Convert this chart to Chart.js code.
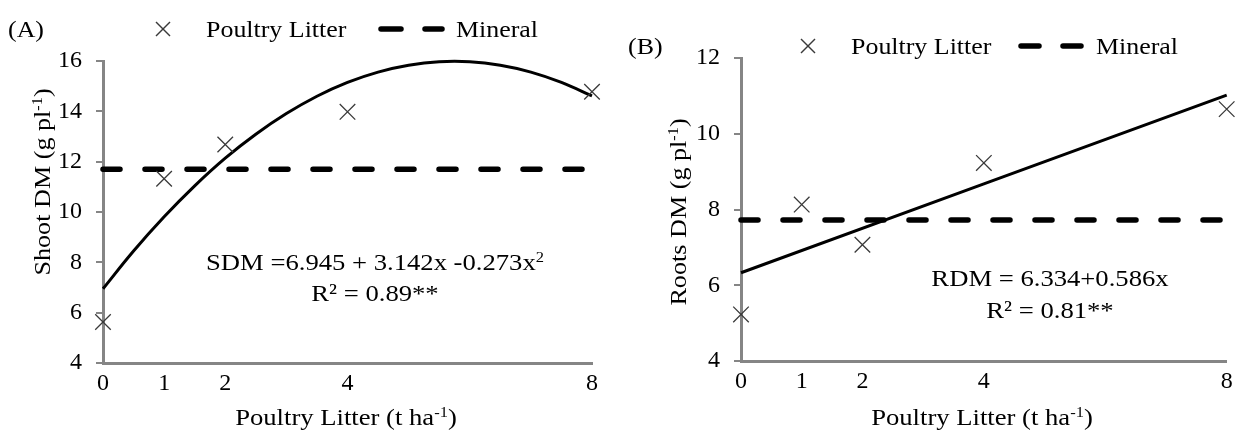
<!DOCTYPE html>
<html>
<head>
<meta charset="utf-8">
<script src="https://cdn.jsdelivr.net/npm/chart.js@4.4.1/dist/chart.umd.min.js"></script>
<style>
  body{margin:0;background:#fff;}
  #wrap{position:relative;width:1239px;height:431px;overflow:hidden;font-family:"Liberation Serif","Times New Roman",serif;color:#000;}
  canvas{position:absolute;top:0;}
  .t{position:absolute;white-space:nowrap;font-size:24px;line-height:1;}
  .c{transform:translate(-50%,-50%) scaleX(1.11);}
  .l{transform:translateY(-50%) scaleX(1.08);transform-origin:left center;}
  .v{transform:translate(-50%,-50%) rotate(-90deg) scaleX(1.09);}
  sup{font-size:0.62em;vertical-align:0.55em;line-height:0;}
  #keys{position:absolute;left:0;top:0;}
</style>
</head>
<body>
<div id="wrap">
  <canvas id="cA" width="620" height="431" style="left:0"></canvas>
  <canvas id="cB" width="619" height="431" style="left:620px"></canvas>

  <svg id="keys" width="1239" height="431">
    <g stroke="#3a3a3a" stroke-width="1.4">
      <line x1="156" y1="22" x2="170" y2="36"/><line x1="156" y1="36" x2="170" y2="22"/>
      <line x1="801" y1="39" x2="815" y2="53"/><line x1="801" y1="53" x2="815" y2="39"/>
    </g>
    <g stroke="#000" stroke-width="5.5" stroke-linecap="round">
      <line x1="381" y1="29" x2="401" y2="29"/><line x1="425" y1="29" x2="442" y2="29"/>
      <line x1="1021" y1="46" x2="1039" y2="46"/><line x1="1063" y1="46" x2="1081" y2="46"/>
    </g>
  </svg>

  <div class="t l" style="left:8px;top:29px">(A)</div>
  <div class="t l" style="left:206px;top:29px">Poultry Litter</div>
  <div class="t l" style="left:456px;top:29px">Mineral</div>
  <div class="t c" style="left:375px;top:262px">SDM =6.945 + 3.142x -0.273x<sup>2</sup></div>
  <div class="t c" style="left:375px;top:293px">R² = 0.89**</div>
  <div class="t c" style="left:346px;top:417px">Poultry Litter (t ha<sup>-1</sup>)</div>
  <div class="t v" style="left:42px;top:182px">Shoot DM (g pl<sup>-1</sup>)</div>

  <div class="t l" style="left:628px;top:46px">(B)</div>
  <div class="t l" style="left:851px;top:46px">Poultry Litter</div>
  <div class="t l" style="left:1096px;top:46px">Mineral</div>
  <div class="t c" style="left:1050px;top:278px">RDM = 6.334+0.586x</div>
  <div class="t c" style="left:1050px;top:310px">R² = 0.81**</div>
  <div class="t c" style="left:982px;top:417px">Poultry Litter (t ha<sup>-1</sup>)</div>
  <div class="t v" style="left:678px;top:212px">Roots DM (g pl<sup>-1</sup>)</div>
</div>

<script>
// poultry litter doses (t/ha)
const doses = [0, 1, 2, 4, 8];
const xTickVals = [0, 1, 2, 4, 8];

// (A) shoot dry matter
const shootLitter = [5.63, 11.32, 12.68, 13.98, 14.78];
const shootMineral = 11.7;
const shootFitX = [0, 0.5, 1, 1.5, 2, 2.5, 3, 3.5, 4, 4.5, 5, 5.5, 6, 6.5, 7, 7.5, 8];
const shootFitY = [6.95, 8.45, 9.81, 11.04, 12.14, 13.09, 13.91, 14.60, 15.15, 15.56, 15.83, 15.97, 15.97, 15.83, 15.56, 15.15, 14.61];
const shootYTicks = [4, 6, 8, 10, 12, 14, 16];

// (B) roots dry matter
const rootsLitter = [5.23, 8.13, 7.07, 9.23, 10.65];
const rootsMineral = 7.72;
const rootsFitX = [0, 8];
const rootsFitY = [6.33, 11.02];
const rootsYTicks = [4, 6, 8, 10, 12];

const axisGrey = '#858585';
const tickFont = {family: 'Liberation Serif', size: 24};

function pts(xs, ys){ return xs.map((x,i)=>({x, y: ys[i]})); }

function panel(id, litter, mineral, fitX, fitY, yTicks, box){
  return new Chart(document.getElementById(id), {
    type: 'scatter',
    data: {datasets: [
      {label:'Poultry Litter', data: pts(doses, litter), showLine:false, clip:false,
       pointStyle:'crossRot', pointRadius:11, pointBorderColor:'#3a3a3a', pointBorderWidth:1.3, pointBackgroundColor:'transparent'},
      {label:'fit', data: pts(fitX, fitY), showLine:true, clip:false, borderColor:'#000', borderWidth:3,
       pointRadius:0, tension:0.4},
      {label:'Mineral', data: pts([doses[0], doses[doses.length-1]], [mineral, mineral]), showLine:true, clip:false,
       borderColor:'#000', borderWidth:5.5, borderDash:[17,25], borderCapStyle:'round', pointRadius:0}
    ]},
    options: {
      responsive:false, animation:false,
      layout:{padding:{left:0, right:box.right, top:box.top, bottom:0}},
      plugins:{legend:{display:false}, tooltip:{enabled:false}},
      scales:{
        x:{type:'linear', min:0, max:8,
           afterBuildTicks: s => { s.ticks = xTickVals.map(v=>({value:v})); },
           afterFit: s => { s.height = box.xh; },
           grid:{display:false, drawTicks:false},
           border:{display:true, color:axisGrey, width:3},
           ticks:{color:'#000', font:tickFont, padding:6, maxRotation:0, autoSkip:false}},
        y:{min:yTicks[0], max:yTicks[yTicks.length-1],
           afterBuildTicks: s => { s.ticks = yTicks.map(v=>({value:v})); },
           afterFit: s => { s.width = box.yw; },
           grid:{drawOnChartArea:false, drawTicks:true, tickLength:7, color:axisGrey, lineWidth:2},
           border:{display:true, color:axisGrey, width:3},
           ticks:{color:'#000', font:tickFont, padding:14}}
      }
    }
  });
}

panel('cA', shootLitter, shootMineral, shootFitX, shootFitY, shootYTicks, {yw:103, right:28, top:61, xh:68});
panel('cB', rootsLitter, rootsMineral, rootsFitX, rootsFitY, rootsYTicks, {yw:121, right:11, top:58, xh:70});
</script>
</body>
</html>
